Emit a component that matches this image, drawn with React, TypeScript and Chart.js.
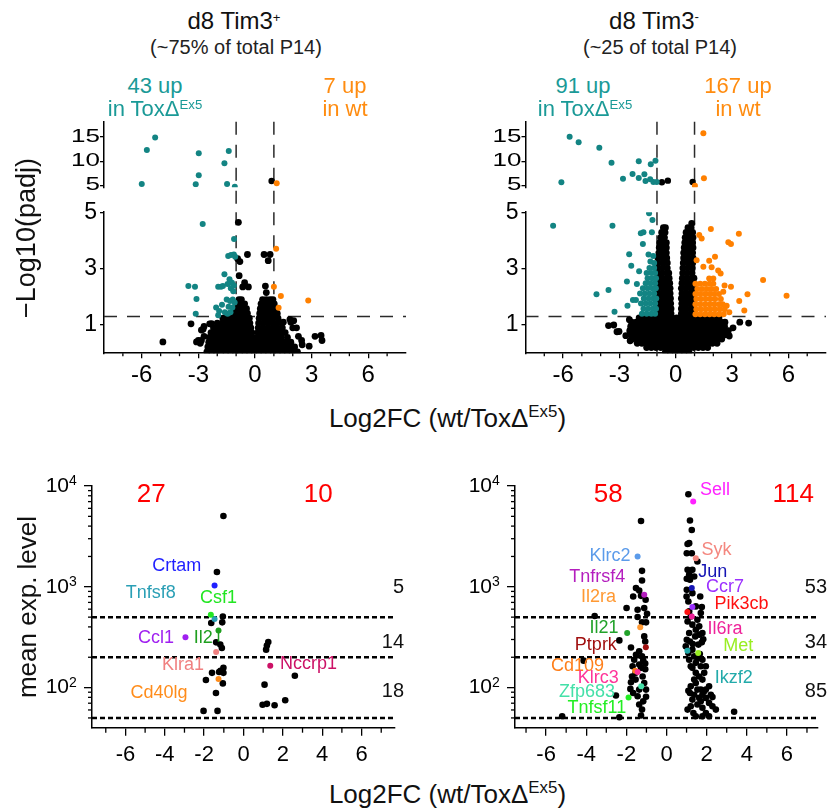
import React, { useEffect, useRef } from 'react';
import { Chart, registerables } from 'chart.js';

Chart.register(...registerables);

// ================= DATA =================
// Top-left volcano (d8 Tim3+): [log2FC, -log10(padj)]
const tlUpperTeal = [[-5.29, 14.9], [-5.73, 12.34], [-6.0, 5.29], [-2.98, 11.66], [-2.98, 7.1], [-3.14, 5.23], [-1.39, 12.14], [-1.62, 9.59], [-1.48, 5.29], [-1.07, 4.73]];
const tlUpperBlack = [[0.88, 5.91]];
const tlUpperOrange = [[1.15, 5.45]];
const tlTeal = [[-2.77, 4.58], [-1.11, 4.05], [-1.42, 3.45], [-1.27, 3.48], [-1.12, 3.5], [-1.05, 3.42], [-1.62, 2.8], [-3.53, 2.38], [-3.18, 2.36], [-3.1, 1.92], [-3.14, 1.4], [-1.95, 2.36], [-1.8, 2.36], [-1.7, 2.38], [-1.35, 2.62], [-1.22, 2.5], [-1.12, 2.4], [-1.45, 2.45], [-1.28, 2.3], [-1.15, 2.2], [-1.5, 1.9], [-1.32, 1.85], [-1.18, 1.9], [-1.08, 1.8], [-2.06, 1.62], [-1.9, 1.5], [-1.95, 1.35], [-1.6, 1.45], [-1.45, 1.4], [-1.3, 1.45], [-1.75, 1.72], [-1.4, 1.65], [-1.2, 1.62]];
const tlOrange = [[1.12, 3.7], [1.0, 2.36], [1.37, 2.03], [1.25, 1.61], [2.82, 1.87]];
const tlBlack = [[-0.88, 4.64], [-0.92, 3.35], [-0.8, 3.25], [-0.4, 3.5], [-0.84, 2.75], [-0.55, 2.5], [-0.35, 2.35], [-0.65, 2.35], [0.48, 3.5], [0.8, 3.5], [0.7, 3.28], [0.55, 2.38], [0.6, 2.15], [-4.88, 0.4], [-3.39, 1.04], [-2.84, 0.82], [-3.0, 0.45], [-2.84, 0.45], [2.47, 0.45], [2.87, 0.25], [3.18, 0.6], [3.5, 0.63], [3.55, 0.45], [1.5, 1.1], [1.9, 1.1], [2.0, 0.9], [-2.7, 0.95], [-2.4, 1.04], [-2.7, 0.6], [-2.9, 0.35], [-3.1, 0.4], [-2.75, 0.85], [-2.3, 1.05], [1.85, 1.2], [2.05, 1.15], [2.3, 0.6], [2.5, 0.3], [2.2, 0.9]];
const tlCloudRows: [number, number[]][] = [
  [0.05, [-2.55, -2.3, -2.05, -1.8, -1.55, -1.3, -1.05, -0.8, -0.55, -0.3, -0.05, 0.2, 0.45, 0.7, 0.95, 1.2, 1.45, 1.7, 1.95, 2.25]],
  [0.22, [-2.5, -2.25, -2.0, -1.75, -1.5, -1.25, -1.0, -0.75, -0.5, -0.25, -0.02, 0.1, 0.35, 0.6, 0.85, 1.1, 1.35, 1.6, 1.85, 2.1]],
  [0.39, [-2.45, -2.2, -1.95, -1.7, -1.45, -1.2, -0.95, -0.7, -0.45, -0.2, -0.06, 0.12, 0.37, 0.62, 0.87, 1.12, 1.37, 1.62, 1.9]],
  [0.56, [-2.42, -2.15, -1.9, -1.65, -1.4, -1.15, -0.9, -0.65, -0.4, -0.12, 0.14, 0.4, 0.65, 0.9, 1.15, 1.4, 1.72]],
  [0.73, [-2.33, -2.08, -1.83, -1.58, -1.33, -1.08, -0.83, -0.58, -0.33, -0.16, 0.15, 0.4, 0.65, 0.9, 1.15, 1.4, 1.6]],
  [0.9, [-2.2, -1.95, -1.7, -1.45, -1.2, -0.95, -0.7, -0.45, -0.22, 0.17, 0.42, 0.67, 0.92, 1.17, 1.45]],
  [1.07, [-2.0, -1.75, -1.5, -1.25, -1.0, -0.75, -0.5, -0.27, 0.19, 0.44, 0.69, 0.94, 1.19, 1.4]],
  [1.24, [-1.7, -1.45, -1.2, -0.95, -0.7, -0.45, -0.3, 0.22, 0.47, 0.72, 0.97, 1.22]],
  [1.41, [-1.1, -0.88, -0.62, -0.4, 0.25, 0.48, 0.73, 0.98, 1.18]],
  [1.58, [-1.0, -0.8, -0.6, -0.45, 0.28, 0.5, 0.75, 1.0, 1.08]],
  [1.75, [-0.92, -0.72, -0.55, 0.32, 0.55, 0.8, 1.02]],
  [1.9, [-0.85, -0.72, 0.4, 0.6, 0.8, 0.95]],
];

// Top-right volcano (d8 Tim3-)
const trUpperTeal = [[-5.65, 15.1], [-5.17, 13.94], [-4.07, 12.82], [-3.42, 9.71], [-1.97, 10.0], [-1.33, 9.38], [-1.08, 10.12], [-6.09, 5.64], [-2.81, 6.39], [-2.3, 7.37], [-1.97, 6.54], [-1.67, 7.3], [-1.61, 5.91], [-1.36, 6.27], [-1.19, 5.71], [-1.01, 5.71]];
const trUpperBlack = [[-0.74, 5.64], [-0.42, 5.98], [0.9, 5.71]];
const trUpperOrange = [[1.47, 15.81], [1.5, 6.47], [1.02, 4.94]];
const trTeal = [[-6.53, 4.52], [-3.37, 4.52], [-1.42, 4.96], [-1.24, 4.72], [-1.72, 4.29], [-1.86, 4.25], [-1.27, 4.29], [-1.75, 3.87], [-2.48, 3.51], [-2.37, 3.1], [-1.95, 2.91], [-2.6, 2.54], [-2.07, 2.45], [-4.22, 2.09], [-3.58, 2.24], [-3.26, 1.47], [-2.57, 1.68], [-2.28, 1.89], [-2.12, 1.89], [-1.9, 2.12], [-1.45, 3.5], [-1.2, 3.45], [-1.35, 3.25], [-1.15, 3.2]];
const trTealRows: [number, number[]][] = [
  [1.4, [-1.8, -1.55, -1.3, -1.1]],
  [1.58, [-1.72, -1.47, -1.22, -1.05]],
  [1.76, [-1.85, -1.6, -1.35, -1.1]],
  [1.94, [-1.7, -1.45, -1.2, -1.04]],
  [2.12, [-1.65, -1.4, -1.15]],
  [2.3, [-1.75, -1.5, -1.25, -1.06]],
  [2.48, [-1.6, -1.35, -1.1]],
  [2.66, [-1.5, -1.25, -1.05]],
  [2.84, [-1.55, -1.3, -1.1]],
  [3.02, [-1.4, -1.15]],
];
const trOrange = [[1.87, 4.4], [3.36, 4.24], [2.8, 3.93], [2.94, 3.87], [1.25, 4.19], [1.38, 4.07], [2.09, 3.42], [1.78, 3.28], [1.11, 3.3], [1.47, 3.07], [1.91, 3.05], [2.26, 2.93], [2.39, 2.83], [1.78, 2.65], [2.0, 2.65], [4.65, 2.6], [5.9, 2.04], [3.82, 2.09], [3.38, 1.85], [3.65, 1.51], [2.94, 2.36], [2.53, 2.18], [2.71, 1.68], [2.85, 1.45], [2.6, 2.4]];
const trOrangeRows: [number, number[]][] = [
  [1.38, [1.05, 1.3, 1.55, 1.8, 2.05, 2.3, 2.55]],
  [1.56, [1.1, 1.35, 1.6, 1.85, 2.1, 2.35, 2.6]],
  [1.74, [1.05, 1.3, 1.55, 1.8, 2.05, 2.3, 2.5]],
  [1.92, [1.1, 1.35, 1.6, 1.85, 2.1, 2.4]],
  [2.1, [1.05, 1.3, 1.55, 1.8, 2.05, 2.3]],
  [2.28, [1.15, 1.4, 1.65, 1.9, 2.15]],
  [2.46, [1.05, 1.3, 1.55, 1.8, 2.0]],
];
const trBlack = [[-3.58, 0.98], [-3.02, 0.77], [-2.47, 1.19], [-2.43, 0.44], [-3.3, 1.0], [-3.13, 0.76], [3.41, 1.1], [3.88, 1.07], [2.85, 0.61], [3.05, 0.9], [-2.66, 0.62]];
const trCloudRows: [number, number[]][] = [
  [0.05, [-0.55, -0.3, -0.05, 0.2, 0.45, 0.7]],
  [0.2, [-1.55, -1.3, -1.05, -0.8, -0.55, -0.3, -0.05, 0.2, 0.45, 0.7, 0.95, 1.2, 1.45, 1.7]],
  [0.35, [-2.05, -1.8, -1.55, -1.3, -1.05, -0.8, -0.55, -0.3, -0.05, 0.2, 0.45, 0.7, 0.95, 1.2, 1.45, 1.7, 1.95, 2.2]],
  [0.5, [-2.3, -2.05, -1.8, -1.55, -1.3, -1.05, -0.8, -0.55, -0.3, -0.05, 0.2, 0.45, 0.7, 0.95, 1.2, 1.45, 1.7, 1.95, 2.2, 2.45]],
  [0.65, [-2.4, -2.15, -1.9, -1.65, -1.4, -1.15, -0.9, -0.65, -0.4, -0.15, 0.1, 0.35, 0.6, 0.85, 1.1, 1.35, 1.6, 1.85, 2.1, 2.35, 2.65]],
  [0.8, [-2.45, -2.2, -1.95, -1.7, -1.45, -1.2, -0.95, -0.7, -0.45, -0.2, 0.05, 0.3, 0.55, 0.8, 1.05, 1.3, 1.55, 1.8, 2.05, 2.3, 2.55, 2.8]],
  [0.95, [-2.4, -2.15, -1.9, -1.65, -1.4, -1.15, -0.9, -0.65, -0.4, -0.15, 0.1, 0.35, 0.6, 0.85, 1.1, 1.35, 1.6, 1.85, 2.1, 2.35, 2.6]],
  [1.1, [-2.35, -2.1, -1.85, -1.6, -1.35, -1.1, -0.85, -0.6, -0.35, -0.1, 0.15, 0.4, 0.65, 0.9, 1.15, 1.4, 1.65, 1.9, 2.15, 2.4, 2.62]],
  [1.25, [-1.95, -1.7, -1.45, -1.2, -0.95, -0.7, -0.45, -0.2, 0.05, 0.3, 0.55, 0.8, 1.05, 1.3, 1.55, 1.8, 2.05, 2.3]],
  [1.4, [-1.0, -0.75, -0.5, -0.25, 0.3, 0.55, 0.8]],
  [1.58, [-0.95, -0.7, -0.45, -0.25, 0.3, 0.55, 0.8, 0.95]],
  [1.76, [-1.0, -0.75, -0.5, -0.27, 0.32, 0.57, 0.82]],
  [1.94, [-0.95, -0.7, -0.45, -0.28, 0.3, 0.55, 0.8, 0.95]],
  [2.12, [-1.0, -0.75, -0.5, -0.3, 0.33, 0.58, 0.83]],
  [2.3, [-0.95, -0.7, -0.45, -0.3, 0.3, 0.55, 0.8, 0.95]],
  [2.48, [-1.0, -0.75, -0.5, -0.32, 0.33, 0.58, 0.83]],
  [2.66, [-0.95, -0.7, -0.45, -0.35, 0.35, 0.6, 0.85, 0.97]],
  [2.84, [-0.98, -0.73, -0.48, -0.37, 0.37, 0.62, 0.87]],
  [3.02, [-0.95, -0.7, -0.45, 0.38, 0.63, 0.88]],
  [3.2, [-0.92, -0.68, -0.45, 0.4, 0.65, 0.9]],
  [3.38, [-0.95, -0.7, -0.48, 0.42, 0.67, 0.92]],
  [3.56, [-0.9, -0.67, -0.5, 0.42, 0.67, 0.9]],
  [3.74, [-0.88, -0.65, -0.5, 0.45, 0.7, 0.92]],
  [3.92, [-0.85, -0.62, -0.5, 0.48, 0.72, 0.9]],
  [4.1, [-0.8, -0.6, 0.5, 0.72, 0.92]],
  [4.28, [-0.75, -0.57, 0.55, 0.75, 0.9]],
  [4.45, [-0.66, -0.55, 0.65, 0.82]],
  [4.6, [0.85]],
];

// Bottom-left (Tim3+): [log2FC, mean expression]
const blBlack = [[-1.02, 5040], [-1.35, 1400], [-1.64, 437], [-1.05, 508], [-1.08, 444], [-1.39, 281], [-1.18, 267], [-1.1, 247], [-1.6, 140], [-1.91, 119], [-1.24, 143], [-1.02, 157], [-1.02, 140], [-1.17, 147], [-1.05, 110], [-1.4, 88.5], [-2.03, 58.7], [-1.32, 58.7], [1.26, 283], [1.19, 262], [1.15, 238], [2.61, 131], [1.07, 107], [0.97, 67.5], [1.19, 69], [1.58, 66.8], [2.12, 74.8]];
const blGeneNames = ['Crtam', 'Tnfsf8', 'Csf1', 'Ccl1', 'Il2', 'Klra1', 'Nccrp1', 'Cd40lg'];
const blGeneValues = [[-1.47, 1030], [-1.47, 479], [-1.66, 528], [-2.95, 315], [-1.27, 369], [-1.39, 225], [1.36, 165], [-1.27, 122]];
const blSideCounts = ['27', '10'];
const blBandCounts = ['5', '14', '18'];

// Bottom-right (Tim3-)
const brBlack = [[-1.27, 4500], [-1.22, 1440], [-1.22, 1155], [-1.52, 971], [-1.36, 919], [-1.66, 801], [-1.04, 743], [-1.27, 813], [-1.11, 615], [-1.99, 617], [-1.44, 591], [-0.97, 541], [-3.58, 513], [-1.44, 501], [-1.22, 444], [-1.02, 444], [-2.35, 294], [-1.11, 322], [-1.06, 287], [-1.77, 250], [-1.36, 229], [-1.52, 212], [-1.22, 204], [-1.61, 189], [-1.16, 185], [-1.69, 163], [-1.36, 169], [-1.06, 173], [-1.77, 113], [-1.54, 120], [-1.19, 129], [-1.11, 111], [-1.36, 95.5], [-2.52, 83.4], [-1.44, 82], [-1.02, 81], [-1.36, 68], [-1.22, 60.5], [-1.27, 52.8], [-5.2, 52], [-2.35, 50.8], [-4.13, 185], [-1.8, 97], [-1.66, 88.5], [-1.16, 73], [-1.02, 95.5], [-1.54, 140], [-1.27, 157], [-1.06, 152], [-1.72, 129],
  [1.09, 8280], [1.17, 4540], [1.26, 3660], [1.13, 2710], [1.05, 2660], [1.01, 2155], [1.26, 2155], [1.54, 1780], [1.05, 1472], [1.29, 1472], [1.13, 1315], [1.01, 1200], [1.68, 801], [1.76, 630], [1.0, 801], [1.09, 715], [1.05, 453], [1.29, 421], [1.46, 375], [1.13, 348], [1.43, 322], [1.63, 335], [1.01, 298], [1.83, 302], [1.76, 281], [1.59, 267], [0.96, 257], [1.29, 238], [1.66, 215], [1.79, 189], [1.46, 176], [1.88, 140], [1.29, 157], [1.63, 129], [1.46, 111], [1.71, 95.5], [2.12, 103], [1.09, 93], [1.17, 88.5], [1.38, 85], [1.79, 85], [1.96, 79], [2.29, 80.5], [2.46, 60.5], [2.12, 70.5], [2.29, 65.3], [1.54, 68], [1.21, 65.3], [1.79, 63], [1.05, 60.5], [1.46, 52], [1.79, 52], [2.12, 52], [1.96, 56], [1.34, 56], [3.37, 57.5],
  [1.88, 91.8], [1.63, 79], [1.96, 95.5], [2.21, 85], [1.29, 76], [1.71, 73], [1.54, 95.5], [1.21, 103], [1.38, 120], [1.79, 120], [1.46, 140], [1.21, 163], [1.71, 163], [1.96, 163], [1.54, 194], [1.38, 204], [1.13, 189], [1.09, 220], [1.31, 271], [1.17, 287], [1.79, 348], [1.63, 405], [1.21, 508], [1.54, 471], [1.13, 570], [1.46, 639], [1.71, 549], [1.01, 933], [1.29, 865], [1.17, 1173], [1.38, 1265]];
const brGeneNames = ['Sell', 'Klrc2', 'Syk', 'Jun', 'Tnfrsf4', 'Ccr7', 'Il2ra', 'Pik3cb', 'Il21', 'Il6ra', 'Ptprk', 'Met', 'Cd109', 'Klrc3', 'Ikzf2', 'Zfp683', 'Tnfsf11'];
const brGeneValues = [[1.33, 7000], [-1.44, 1995], [1.46, 1924], [1.26, 971], [-1.11, 834], [1.29, 630], [-1.31, 396], [1.04, 563], [-1.96, 348], [1.26, 508], [-1.03, 251], [1.58, 220], [-1.56, 147], [-1.44, 143], [1.04, 232], [-1.26, 103], [-1.89, 79.6]];
const brSideCounts = ['58', '114'];
const brBandCounts = ['53', '34', '85'];

// Axis ticks / thresholds
const topXTicks = [-6, -3, 0, 3, 6];
const topXMinor = [-7, -5, -4, -2, -1, 1, 2, 4, 5, 7];
const topYLowerTicks = [1, 3, 5];
const topYUpperTicks = [5, 10, 15];
const botXTicks = [-6, -4, -2, 0, 2, 4, 6];
const botXMinor = [-7, -5, -3, -1, 1, 3, 5, 7];
const botYTicks = [100, 1000, 10000];
const botYMinor = [50, 60, 70, 80, 90, 200, 300, 400, 500, 600, 700, 800, 900, 2000, 3000, 4000, 5000, 6000, 7000, 8000, 9000];
const fcCut = [-1, 1];
const padjCut = 1.3;
const exprCuts = [500, 200, 50];
const bandMid = [977, 279, 91];

// ================= STYLE / LAYOUT =================
const FAM = '"Liberation Sans", Arial, Helvetica, sans-serif';
const F = (s: number) => `${s}px ${FAM}`;
const TEAL = '#138483';
const ORANGE = '#ff8000';
const blGeneColors = ['#1f1fff', '#2a9fb5', '#22e622', '#a020f0', '#1f9f1f', '#f08080', '#cc1166', '#ff8c1a'];
const blLabelPos = [[-3.39, 1589], [-4.71, 867], [-1.27, 773], [-4.45, 310], [-2.05, 310], [-3.08, 166], [3.31, 172], [-4.29, 88.5]];
const brGeneColors = ['#ff22ff', '#5b9bea', '#f4877f', '#1414b4', '#b41ebe', '#9b30ff', '#ff9933', '#ff1111', '#22a22a', '#ee2299', '#a00f0f', '#99ee22', '#ff7f1a', '#ff3399', '#22aaaa', '#44e0a8', '#22ee22'];
const brLabelPos = [[2.42, 9120], [-2.81, 2028], [2.49, 2291], [2.3, 1400], [-3.45, 1247], [2.91, 993], [-3.39, 791], [3.74, 675], [-3.12, 390], [2.92, 381], [-3.52, 267], [3.58, 261], [-4.44, 165], [-3.4, 123], [3.35, 125], [-3.96, 90.6], [-3.47, 63]];

type Geo = { left: number; top: number; width: number; height: number; aL: number; aT: number; aR: number; aB: number };
const G_TLU: Geo = { left: 0, top: 100, width: 419, height: 112, aL: 104, aT: 121.7, aR: 406, aB: 187.3 };
const G_TLL: Geo = { left: 0, top: 195, width: 419, height: 205, aL: 104, aT: 212.2, aR: 406, aB: 353.2 };
const G_TRU: Geo = { left: 419, top: 100, width: 419, height: 112, aL: 525.5, aT: 121.7, aR: 826, aB: 187.3 };
const G_TRL: Geo = { left: 419, top: 195, width: 419, height: 205, aL: 525.5, aT: 212.2, aR: 826, aB: 353.2 };
const G_BL: Geo = { left: 0, top: 460, width: 419, height: 310, aL: 92, aT: 486, aR: 395, aB: 727.7 };
const G_BR: Geo = { left: 419, top: 460, width: 419, height: 310, aL: 515, aT: 486, aR: 818, aB: 727.7 };

const pts = (a: number[][]) => a.map(([x, y]) => ({ x, y }));
const rowPts = (r: [number, number[]][]) => r.flatMap(([y, xs]) => xs.map((x) => ({ x, y })));
const ds = (data: any[], color: any, r: number) => ({ data, backgroundColor: color, borderWidth: 0, pointRadius: r, pointHoverRadius: r });

function makeDecor(d: any) {
  return {
    id: 'decor',
    beforeDatasetsDraw(chart: any) {
      const { ctx, chartArea: a } = chart;
      const xs = chart.scales.x, ys = chart.scales.y;
      ctx.save();
      ctx.strokeStyle = d.lineColor || '#2a2a2a';
      ctx.lineWidth = d.lineWidth || 1.5;
      ctx.setLineDash(d.dash || [13, 10]);
      for (const v of d.vLines || []) {
        const px = xs.getPixelForValue(v);
        ctx.beginPath(); ctx.moveTo(px, a.top); ctx.lineTo(px, d.vExtend ? chart.height : a.bottom); ctx.stroke();
      }
      for (const v of d.hLines || []) {
        const py = ys.getPixelForValue(v);
        ctx.beginPath(); ctx.moveTo(a.left, py); ctx.lineTo(a.right, py); ctx.stroke();
      }
      ctx.restore();
    },
    afterDraw(chart: any) {
      const { ctx, chartArea: a } = chart;
      const xs = chart.scales.x, ys = chart.scales.y;
      ctx.save();
      ctx.strokeStyle = '#000'; ctx.lineWidth = 1.3; ctx.setLineDash([]);
      for (const v of d.minorX || []) {
        const px = xs.getPixelForValue(v);
        ctx.beginPath(); ctx.moveTo(px, a.bottom); ctx.lineTo(px, a.bottom + d.minorXLen); ctx.stroke();
      }
      for (const v of d.minorY || []) {
        const py = ys.getPixelForValue(v);
        ctx.beginPath(); ctx.moveTo(a.left - d.minorYLen, py); ctx.lineTo(a.left, py); ctx.stroke();
      }
      ctx.fillStyle = '#000';
      for (const v of d.squishY || []) {
        const py = ys.getPixelForValue(v);
        ctx.save(); ctx.translate(a.left - 4, py); ctx.scale(1, 0.68);
        ctx.font = F(26); ctx.textAlign = 'right'; ctx.textBaseline = 'middle';
        ctx.fillText(String(v), 0, 0); ctx.restore();
      }
      for (const v of d.powY || []) {
        const py = ys.getPixelForValue(v);
        const e = Math.round(Math.log10(v));
        ctx.fillStyle = '#000';
        ctx.font = F(21); ctx.textAlign = 'right'; ctx.textBaseline = 'middle';
        ctx.fillText('10', a.left - 23, py);
        ctx.font = F(14); ctx.textAlign = 'left'; ctx.textBaseline = 'alphabetic';
        ctx.fillText(String(e), a.left - 23, py - 1);
      }
      for (const s of d.segs || []) {
        ctx.strokeStyle = s.color; ctx.lineWidth = 1.5;
        ctx.beginPath(); ctx.moveTo(xs.getPixelForValue(s.x1), ys.getPixelForValue(s.y1));
        ctx.lineTo(xs.getPixelForValue(s.x2), ys.getPixelForValue(s.y2)); ctx.stroke();
      }
      for (const t of d.texts || []) {
        ctx.font = F(t.size); ctx.fillStyle = t.color; ctx.textAlign = t.align || 'center'; ctx.textBaseline = 'middle';
        const px = t.right !== undefined ? a.right + t.right : xs.getPixelForValue(t.x);
        ctx.fillText(t.text, px, ys.getPixelForValue(t.y));
      }
      ctx.restore();
    },
  };
}

function buildConfig(o: any) {
  const g: Geo = o.geo;
  const yW = g.aL - g.left;
  const padTop = g.aT - g.top;
  const padRight = g.left + g.width - g.aR;
  const bottom = g.top + g.height - g.aB;
  const zeroPad = (s: any) => { s.paddingLeft = 0; s.paddingRight = 0; s.paddingTop = 0; s.paddingBottom = 0; };
  return {
    type: 'scatter',
    data: { datasets: o.datasets },
    options: {
      responsive: false,
      animation: false,
      events: [],
      devicePixelRatio: 1,
      layout: { autoPadding: false, padding: { left: 0, top: padTop, right: padRight, bottom: 0 } },
      plugins: { legend: { display: false }, tooltip: { enabled: false }, title: { display: false } },
      scales: {
        x: {
          type: 'linear', min: o.xMin, max: o.xMax, display: o.showX, position: 'bottom',
          afterBuildTicks: (s: any) => { s.ticks = o.xTicks.map((value: number) => ({ value })); },
          afterFit: (s: any) => { s.height = bottom; zeroPad(s); },
          grid: { drawOnChartArea: false, drawTicks: true, tickLength: o.xTickLen, color: '#000', lineWidth: 1.3 },
          border: { display: true, color: '#000', width: 1.5 },
          ticks: { color: '#000', font: { family: FAM, size: o.xFont }, padding: o.xPad, maxRotation: 0, autoSkip: false, callback: (v: any) => String(v) },
        },
        y: {
          type: o.yLog ? 'logarithmic' : 'linear', min: o.yMin, max: o.yMax, position: 'left',
          afterBuildTicks: (s: any) => { s.ticks = o.yTicks.map((value: number) => ({ value })); },
          afterFit: (s: any) => { s.width = yW; zeroPad(s); },
          grid: { drawOnChartArea: false, drawTicks: true, tickLength: o.yTickLen, color: '#000', lineWidth: 1.3 },
          border: { display: true, color: '#000', width: 1.5 },
          ticks: { display: !!o.yLabels, color: '#000', font: { family: FAM, size: o.yFont || 23 }, padding: 3, autoSkip: false, callback: (v: any) => String(v) },
        },
      },
    },
    plugins: [makeDecor(o.decor)],
  };
}

function Plot({ geo, cfg }: { geo: Geo; cfg: any }) {
  const ref = useRef<HTMLCanvasElement>(null);
  useEffect(() => {
    const chart = new Chart(ref.current as any, buildConfig({ ...cfg, geo }) as any);
    return () => chart.destroy();
  }, []);
  return (
    <canvas ref={ref} width={geo.width} height={geo.height}
      style={{ position: 'absolute', left: geo.left, top: geo.top, width: geo.width, height: geo.height }} />
  );
}

const topUpper = (teal: number[][], orange: number[][], black: number[][]) => ({
  datasets: [ds(pts(teal), TEAL, 3), ds(pts(orange), ORANGE, 3), ds(pts(black), '#000', 3.2)],
  xMin: -8, xMax: 8, yMin: 4.6, yMax: 18.2, showX: false,
  xTicks: topXTicks, yTicks: topYUpperTicks, xTickLen: 5, yTickLen: 4, xFont: 24, xPad: 3, yLabels: false,
  decor: { vLines: fcCut, vExtend: true, squishY: topYUpperTicks },
});
const topLower = (teal: any[], orange: any[], black: any[]) => ({
  datasets: [ds(teal, TEAL, 3), ds(orange, ORANGE, 3), ds(black, '#000', 3.4)],
  xMin: -8, xMax: 8, yMin: 0, yMax: 5, showX: true,
  xTicks: topXTicks, yTicks: topYLowerTicks, xTickLen: 5, yTickLen: 4, xFont: 24, xPad: 3, yLabels: true, yFont: 23,
  decor: { vLines: fcCut, hLines: [padjCut], minorX: topXMinor, minorXLen: 3 },
});

const bottomCfg = (black: number[][], gv: number[][], gc: string[], names: string[], lp: number[][], side: string[], sideX: number[], band: string[], xMin: number, xMax: number, extraSegs: any[]) => ({
  datasets: [ds(pts(gv), gc, 3), ds(pts(black), '#000', 3.3)],
  xMin, xMax, yMin: 40, yMax: 10000, yLog: true, showX: true,
  xTicks: botXTicks, yTicks: botYTicks, xTickLen: 8, yTickLen: 8, xFont: 22, xPad: 6, yLabels: false,
  decor: {
    hLines: exprCuts, dash: [5, 3], lineWidth: 2.5, lineColor: '#000',
    minorX: botXMinor, minorXLen: 5, minorY: botYMinor, minorYLen: 4, powY: botYTicks,
    segs: extraSegs,
    texts: [
      ...names.map((n, i) => ({ text: n, x: lp[i][0], y: lp[i][1], color: gc[i], size: 18 })),
      ...side.map((s, i) => ({ text: s, x: sideX[i], y: 8190, color: '#ff0000', size: 26 })),
      ...band.map((s, i) => ({ text: s, right: 9, y: bandMid[i], color: '#111', size: 20, align: 'right' })),
    ],
  },
});

const Sup = ({ children, k = 0.6, raise = 0.5 }: any) => (
  <span style={{ fontSize: `${k}em`, position: 'relative', top: `-${raise}em` }}>{children}</span>
);
const Txt = ({ cx, base, size, color = '#111', children }: any) => (
  <div style={{ position: 'absolute', left: cx, top: base - 0.8465 * size, transform: 'translateX(-50%)', whiteSpace: 'nowrap', fontFamily: FAM, fontSize: size, lineHeight: `${size}px`, color }}>{children}</div>
);
const VTxt = ({ cx, cy, size, children }: any) => (
  <div style={{ position: 'absolute', left: cx, top: cy, transform: 'translate(-50%,-50%) rotate(-90deg)', whiteSpace: 'nowrap', fontFamily: FAM, fontSize: size, lineHeight: `${size}px`, color: '#111' }}>{children}</div>
);

const TEAL_T = '#1a9a97';
const ORANGE_T = '#ff8c10';

export default function App() {
  const tlLowerCfg = topLower(pts(tlTeal), pts(tlOrange), [...pts(tlBlack), ...rowPts(tlCloudRows)]);
  const trLowerCfg = topLower([...pts(trTeal), ...rowPts(trTealRows)], [...pts(trOrange), ...rowPts(trOrangeRows)], [...pts(trBlack), ...rowPts(trCloudRows)]);
  const blCfg = bottomCfg(blBlack, blGeneValues, blGeneColors, blGeneNames, blLabelPos, blSideCounts, [-4.69, 3.8], blBandCounts, -7.7, 7.7,
    [{ x1: blGeneValues[4][0], y1: blGeneValues[4][1], x2: blGeneValues[4][0], y2: 285, color: '#1f9f1f' }]);
  const brCfg = bottomCfg(brBlack, brGeneValues, brGeneColors, brGeneNames, brLabelPos, brSideCounts, [-2.9, 6.32], brBandCounts, -7.55, 7.55, []);
  return (
    <div style={{ position: 'absolute', left: 0, top: 0, width: 838, height: 812, background: '#fff', overflow: 'hidden' }}>
      <Plot geo={G_TLU} cfg={topUpper(tlUpperTeal, tlUpperOrange, tlUpperBlack)} />
      <Plot geo={G_TLL} cfg={tlLowerCfg} />
      <Plot geo={G_TRU} cfg={topUpper(trUpperTeal, trUpperOrange, trUpperBlack)} />
      <Plot geo={G_TRL} cfg={trLowerCfg} />
      <Plot geo={G_BL} cfg={blCfg} />
      <Plot geo={G_BR} cfg={brCfg} />

      <Txt cx={234} base={29.3} size={24}>d8 Tim3<Sup k={0.55} raise={0.5}>+</Sup></Txt>
      <Txt cx={236} base={54.3} size={20} color="#222">(~75% of total P14)</Txt>
      <Txt cx={155} base={93.3} size={22} color={TEAL_T}>43 up</Txt>
      <Txt cx={155} base={116.7} size={22} color={TEAL_T}>in ToxΔ<Sup>Ex5</Sup></Txt>
      <Txt cx={345} base={93.3} size={22} color={ORANGE_T}>7 up</Txt>
      <Txt cx={345} base={116.7} size={22} color={ORANGE_T}>in wt</Txt>

      <Txt cx={654} base={29.3} size={24}>d8 Tim3<Sup k={0.55} raise={0.6}>-</Sup></Txt>
      <Txt cx={660} base={54.3} size={20} color="#222">(~25 of total P14)</Txt>
      <Txt cx={583} base={93.3} size={22} color={TEAL_T}>91 up</Txt>
      <Txt cx={585} base={116.7} size={22} color={TEAL_T}>in ToxΔ<Sup>Ex5</Sup></Txt>
      <Txt cx={738} base={93.3} size={22} color={ORANGE_T}>167 up</Txt>
      <Txt cx={738} base={116.7} size={22} color={ORANGE_T}>in wt</Txt>

      <Txt cx={447.5} base={426.7} size={26}>Log2FC (wt/ToxΔ<Sup k={0.65} raise={0.6}>Ex5</Sup>)</Txt>
      <Txt cx={447.5} base={803} size={26}>Log2FC (wt/ToxΔ<Sup k={0.65} raise={0.6}>Ex5</Sup>)</Txt>
      <VTxt cx={26} cy={237.5} size={27}>−Log10(padj)</VTxt>
      <VTxt cx={26.5} cy={606.5} size={26}>mean exp. level</VTxt>
    </div>
  );
}
